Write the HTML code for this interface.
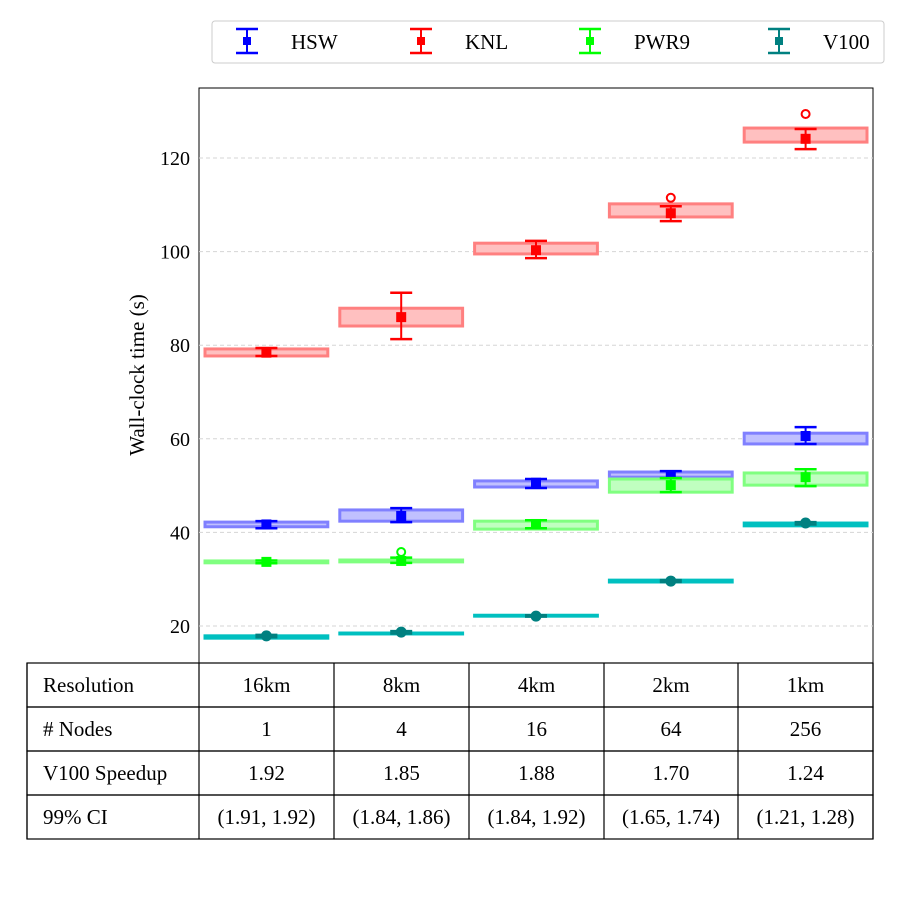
<!DOCTYPE html>
<html><head><meta charset="utf-8"><style>
body{margin:0;background:#fff;}
svg text{font-family:"Liberation Serif",serif;fill:#000;}
</style></head><body>
<svg id="chart" width="900" height="898" xmlns="http://www.w3.org/2000/svg">
<rect x="199" y="88" width="674" height="575" fill="#fff" stroke="#000" stroke-width="1"/>
<g id="grid"></g>
<g id="ticks"></g>
<g id="marks"></g>
<text x="0" y="0" font-size="21" text-anchor="middle" transform="translate(144,375) rotate(-90)">Wall-clock time (s)</text>
<g id="legend">
<rect x="212" y="21" width="672" height="42" rx="3" fill="#fff" stroke="#ccc"/>
</g>
<g id="table"></g>
</svg>
<script>
const categories=["16km","8km","4km","2km","1km"];
const seriesNames=["HSW","KNL","PWR9","V100"];
const yTicks=[20,40,60,80,100,120];
// per series: q1, q3, mean, errLow, errHigh, outliers
const knlQ1=[77.7,84.1,99.5,107.4,123.4], knlQ3=[79.2,87.9,101.8,110.2,126.4], knlMean=[78.4,86.0,100.3,108.2,124.1], knlLo=[77.7,81.3,98.6,106.5,121.9], knlHi=[79.4,91.2,102.3,109.7,126.2], knlOut=[null,null,null,111.5,129.4];
const hswQ1=[41.2,42.4,49.7,51.8,58.9], hswQ3=[42.2,44.8,51.0,52.9,61.2], hswMean=[41.7,43.5,50.6,52.0,60.6], hswLo=[40.9,42.2,49.5,51.6,58.9], hswHi=[42.4,45.2,51.4,53.1,62.5], hswOut=[null,null,null,null,null];
const pwrQ1=[33.5,33.7,40.7,48.6,50.1], pwrQ3=[33.9,34.1,42.4,51.4,52.7], pwrMean=[33.7,33.9,41.8,50.1,51.8], pwrLo=[33.4,33.5,40.9,48.6,49.9], pwrHi=[34.0,34.6,42.6,51.6,53.5], pwrOut=[null,35.8,null,null,null];
const v100Q1=[17.4,18.3,22.1,29.4,41.4], v100Q3=[17.9,18.5,22.3,29.8,42.0], v100Mean=[17.9,18.7,22.1,29.6,42.0], v100Lo=[17.6,18.4,22.0,29.4,41.7], v100Hi=[18.1,18.9,22.3,29.8,42.2], v100Out=[null,null,null,null,null];
const resolutionRow=["16km","8km","4km","2km","1km"];
const nodesRow=["1","4","16","64","256"];
const speedupRow=["1.92","1.85","1.88","1.70","1.24"];
const ciRow=["(1.91, 1.92)","(1.84, 1.86)","(1.84, 1.92)","(1.65, 1.74)","(1.21, 1.28)"];

const NS="http://www.w3.org/2000/svg";
const X0=199,X1=873,Y0=88,Y1=663;
const colW=(X1-X0)/categories.length;
function y(v){return 626-(v-20)*4.68;}
function xc(i){return X0+colW*(i+0.5);}
function mk(tag,attrs,parent){const e=document.createElementNS(NS,tag);for(const k in attrs)e.setAttribute(k,attrs[k]);parent.appendChild(e);return e;}
const grid=document.getElementById('grid'),ticks=document.getElementById('ticks'),marks=document.getElementById('marks');
yTicks.forEach(t=>{
  const l=mk('line',{x1:X0,x2:X1,y1:y(t),y2:y(t),stroke:'#d5d5d5','stroke-dasharray':'4,3'},grid);
  
  
  const tx=mk('text',{x:190,y:y(t)+7,'font-size':20,'text-anchor':'end'},ticks);
  tx.textContent=t;
  
  
});
const series=[
 {n:'hsw',c:'#0000ff',edge:'#8080ff',fill:'#c0c0ff',q1:hswQ1,q3:hswQ3,m:hswMean,lo:hswLo,hi:hswHi,o:hswOut,mk:'sq'},
 {n:'knl',c:'#ff0000',edge:'#ff8080',fill:'#ffc0c0',q1:knlQ1,q3:knlQ3,m:knlMean,lo:knlLo,hi:knlHi,o:knlOut,mk:'sq'},
 {n:'pwr9',c:'#00ff00',edge:'#80ff80',fill:'#c0ffc0',q1:pwrQ1,q3:pwrQ3,m:pwrMean,lo:pwrLo,hi:pwrHi,o:pwrOut,mk:'sq'},
 {n:'v100',c:'#008080',edge:'#00c0c0',fill:'#80e0e0',q1:v100Q1,q3:v100Q3,m:v100Mean,lo:v100Lo,hi:v100Hi,o:v100Out,mk:'ci'}
];
series.forEach(s=>{
  categories.forEach((c,i)=>{
    const g=mk('g',{},marks);
    
    
    const bx=X0+colW*i+6,bw=colW-12;
    const top=y(s.q3[i]),bot=y(s.q1[i]);
    const h=Math.max(bot-top,0.5);
    mk('rect',{x:bx,y:top,width:bw,height:h,fill:s.fill,stroke:s.edge,'stroke-width':3},g);
    const cx=xc(i);
    mk('line',{x1:cx,x2:cx,y1:y(s.hi[i]),y2:y(s.lo[i]),stroke:s.c,'stroke-width':2},g);
    mk('line',{x1:cx-11,x2:cx+11,y1:y(s.hi[i]),y2:y(s.hi[i]),stroke:s.c,'stroke-width':2.5},g);
    mk('line',{x1:cx-11,x2:cx+11,y1:y(s.lo[i]),y2:y(s.lo[i]),stroke:s.c,'stroke-width':2.5},g);
    if(s.mk==='sq') mk('rect',{x:cx-5,y:y(s.m[i])-5,width:10,height:10,fill:s.c},g);
    else mk('circle',{cx:cx,cy:y(s.m[i]),r:5.5,fill:s.c},g);
    if(s.o[i]!==null) mk('circle',{cx:cx,cy:y(s.o[i]),r:4,fill:'none',stroke:s.c,'stroke-width':2},g);
  });
});
// legend
const leg=document.getElementById('legend');
const legX=[247,421,590,779];
series.forEach((s,i)=>{
  const g=mk('g',{},leg);
  
  
  const x=legX[i];
  mk('line',{x1:x,x2:x,y1:29,y2:53,stroke:s.c,'stroke-width':2},g);
  mk('line',{x1:x-11,x2:x+11,y1:29,y2:29,stroke:s.c,'stroke-width':2.5},g);
  mk('line',{x1:x-11,x2:x+11,y1:53,y2:53,stroke:s.c,'stroke-width':2.5},g);
  mk('rect',{x:x-4,y:37,width:8,height:8,fill:s.c},g);
  const t=mk('text',{x:x+44,y:49,'font-size':21},g);
  t.textContent=seriesNames[i];
});
// table
const tb=document.getElementById('table');
const colX=[27,199,334,469,604,738,873];
const rowY=[663,707,751,795,839];
const rows=[["Resolution",resolutionRow],["# Nodes",nodesRow],["V100 Speedup",speedupRow],["99% CI",ciRow]];
rows.forEach((r,ri)=>{
  mk('rect',{x:27,y:rowY[ri],width:846,height:44,fill:'none',stroke:'#000','stroke-width':1.2},tb);
  let t=mk('text',{x:43,y:rowY[ri]+29,'font-size':21},tb);
  t.textContent=r[0];
  
  
  r[1].forEach((v,ci)=>{
    const tt=mk('text',{x:(colX[ci+1]+colX[ci+2])/2,y:rowY[ri]+29,'font-size':21,'text-anchor':'middle'},tb);
    tt.textContent=v;
    
    
  });
});
colX.forEach(x=>mk('line',{x1:x,x2:x,y1:663,y2:839,stroke:'#000','stroke-width':1.2},tb));
</script>
</body></html>
